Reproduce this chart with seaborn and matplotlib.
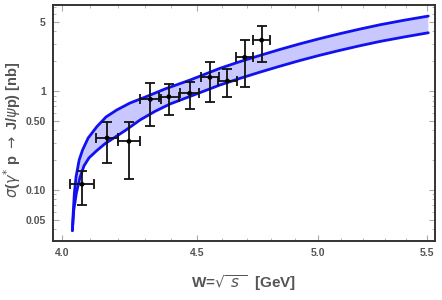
import numpy as np
import pandas as pd
import matplotlib
matplotlib.use("Agg")
import matplotlib.pyplot as plt
from matplotlib.ticker import FixedLocator, FixedFormatter, NullFormatter
import seaborn as sns

# measured points (W in GeV, sigma in nb)
W = [4.07, 4.16, 4.24, 4.32, 4.39, 4.47, 4.55, 4.62, 4.69, 4.76]
W_err = [0.042, 0.041, 0.040, 0.039, 0.038, 0.038, 0.037, 0.037, 0.036, 0.036]
sigma = [0.114, 0.335, 0.310, 0.824, 0.876, 0.948, 1.375, 1.262, 2.19, 3.27]
sigma_err = [0.043, 0.15, 0.18, 0.38, 0.30, 0.29, 0.60, 0.39, 1.08, 1.32]

# model band, upper and lower edges
W_up = [4.036, 4.0385, 4.043, 4.049, 4.060, 4.072, 4.092, 4.123, 4.156, 4.195,
        4.244, 4.306, 4.375, 4.472, 4.590, 4.670, 4.753, 4.836, 4.921, 5.008,
        5.096, 5.186, 5.277, 5.390, 5.504]
sig_up = [0.0388, 0.0559, 0.0926, 0.1362, 0.2009, 0.2535, 0.3352, 0.4358, 0.5462, 0.6427,
          0.7562, 0.880, 1.048, 1.291, 1.696, 1.98, 2.289, 2.63, 2.998, 3.39,
          3.800, 4.23, 4.675, 5.20, 5.722]
W_lo = [4.036, 4.041, 4.050, 4.063, 4.077, 4.095, 4.123, 4.153, 4.183, 4.226,
        4.281, 4.337, 4.395, 4.504, 4.590, 4.670, 4.753, 4.836, 4.921, 5.008,
        5.096, 5.186, 5.277, 5.390, 5.504]
sig_lo = [0.0388, 0.0628, 0.0926, 0.1342, 0.175, 0.211, 0.250, 0.294, 0.333, 0.398,
          0.509, 0.622, 0.740, 0.948, 1.150, 1.34, 1.552, 1.78, 2.033, 2.30,
          2.577, 2.87, 3.170, 3.52, 3.880]

x_ticks = [4.0, 4.5, 5.0, 5.5]
x_ticklabels = ["4.0", "4.5", "5.0", "5.5"]
y_ticks = [0.05, 0.1, 0.5, 1, 5]
y_ticklabels = ["0.05", "0.10", "0.50", "1", "5"]

sns.set_style("ticks")
plt.rcParams['font.family'] = ['Liberation Sans', 'DejaVu Sans']
plt.rcParams['mathtext.fontset'] = 'dejavusans'

fig, ax = plt.subplots(figsize=(4.42, 3.0), dpi=100)
fig.subplots_adjust(left=0.119, right=0.984, bottom=0.197, top=0.983)

ax.set_xscale("log")
ax.set_yscale("log")

# band between the two edges
band_x = list(W_up) + list(W_lo[::-1])
band_y = list(sig_up) + list(sig_lo[::-1])
ax.fill(band_x, band_y, color="#c8c8ff", lw=0, zorder=1)

up = pd.DataFrame({"W": W_up, "sigma": sig_up})
lo = pd.DataFrame({"W": W_lo, "sigma": sig_lo})
sns.lineplot(data=up, x="W", y="sigma", color="#1010f0", lw=2, sort=False,
             estimator=None, ax=ax, zorder=2)
sns.lineplot(data=lo, x="W", y="sigma", color="#1010f0", lw=2, sort=False,
             estimator=None, ax=ax, zorder=2)

ax.errorbar(W, sigma, xerr=W_err, yerr=sigma_err, fmt="none", ecolor="#111111",
            elinewidth=1.3, capsize=3.5, capthick=1.3, zorder=3)
sns.scatterplot(x=W, y=sigma, color="black", s=12, edgecolor="none", ax=ax, zorder=4)

ax.set_xlim(3.967, 5.536)
ax.set_ylim(0.0305, 7.39)

ax.xaxis.set_major_locator(FixedLocator(x_ticks))
ax.xaxis.set_major_formatter(FixedFormatter(x_ticklabels))
ax.xaxis.set_minor_locator(FixedLocator([4.1, 4.2, 4.3, 4.4, 4.6, 4.7, 4.8, 4.9,
                                         5.1, 5.2, 5.3, 5.4]))
ax.xaxis.set_minor_formatter(NullFormatter())
ax.yaxis.set_major_locator(FixedLocator(y_ticks))
ax.yaxis.set_major_formatter(FixedFormatter(y_ticklabels))
ax.yaxis.set_minor_locator(FixedLocator([0.04, 0.06, 0.07, 0.08, 0.09, 0.2, 0.3, 0.4,
                                         0.6, 0.7, 0.8, 0.9, 2, 3, 4, 6, 7]))
ax.yaxis.set_minor_formatter(NullFormatter())

ax.tick_params(which="both", direction="in", top=True, right=True, color="#aaaaaa")
ax.tick_params(which="major", length=4, width=0.8, labelsize=7.5, labelcolor="#555555", pad=5)
ax.tick_params(which="minor", length=2.2, width=0.6)
for lab in ax.get_xticklabels() + ax.get_yticklabels():
    lab.set_fontweight("bold")

for sp in ax.spines.values():
    sp.set_color("#333333")
    sp.set_linewidth(1.4)

ax.set_xlabel(r"W=$\sqrt{\ s\ }$  [GeV]", fontsize=11, color="#555555",
              fontweight="bold")
ax.xaxis.set_label_coords(0.5, -0.135)
ax.set_ylabel(r"$\sigma$($\gamma^{*}$ p $\rightarrow$ J/$\psi$p) [nb]", fontsize=10.5,
              color="#555555", fontweight="bold")
ax.yaxis.set_label_coords(-0.078, 0.47)

fig.savefig("out.png", dpi=100)
